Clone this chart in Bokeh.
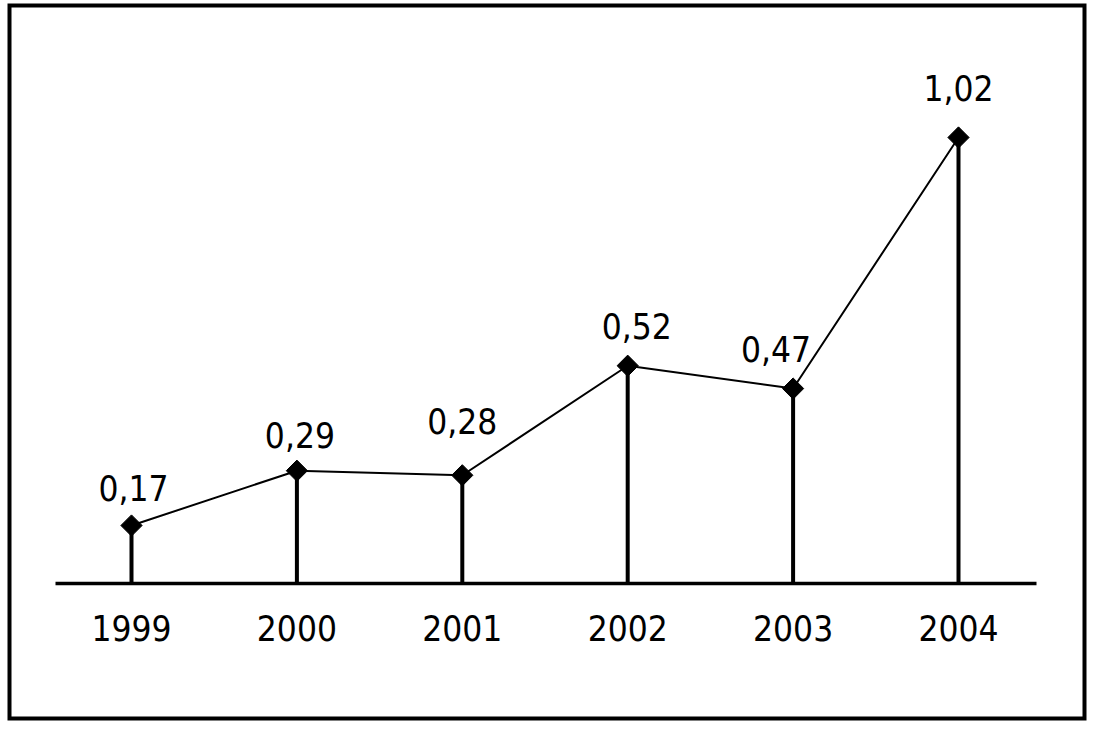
import math
from bokeh.plotting import figure
from bokeh.models import ColumnDataSource, Range1d
from bokeh.core.properties import value
from bokeh.embed import file_html
from bokeh.resources import INLINE

# ---- data ----
years = ["1999", "2000", "2001", "2002", "2003", "2004"]
values = [0.17, 0.29, 0.28, 0.52, 0.47, 1.02]
value_labels = ["0,17", "0,29", "0,28", "0,52", "0,47", "1,02"]

# label placement offsets (screen px, negative = up)
label_dx = [2, 3, 0, 9, -17, 0]
label_dy = [-23, -22, -40, -26, -26, -35]
BASELINE_FIX = -14  # renderer draws alphabetic baseline this much lower

FONT = "'Liberation Sans Narrow', 'DejaVu Sans Condensed', 'Liberation Sans', sans-serif"
BASE = 0.043  # level of the drawn axis line

xs = list(range(len(years)))

p = figure(width=1090, height=722, output_backend="svg", toolbar_location=None,
           x_range=Range1d(-0.7376, 5.7618), y_range=Range1d(-0.2528, 1.3091),
           min_border_left=9, min_border_right=6,
           min_border_top=5, min_border_bottom=4)
p.axis.visible = False
p.grid.visible = False
p.outline_line_color = "black"
p.outline_line_width = 4
p.outline_line_join = "miter"
p.background_fill_color = "white"
p.border_fill_color = "white"

src = ColumnDataSource(dict(x=xs, y=values, base=[BASE] * len(xs), lab=value_labels,
                            dx=label_dx, dy=[d + BASELINE_FIX for d in label_dy], yr=years))

# baseline axis
p.line(x=[-0.4595, 5.4716], y=[BASE, BASE], line_color="black", line_width=3.5)
# stems
p.segment(x0="x", y0="base", x1="x", y1="y", source=src, line_color="black", line_width=4)
# connecting line
p.line(x="x", y="y", source=src, line_color="black", line_width=2)
# diamonds
p.scatter(x="x", y="y", source=src, marker="square", angle=math.pi / 4, size=15,
          fill_color="black", line_color="black")
# value labels
p.text(x="x", y="y", text="lab", source=src, x_offset="dx", y_offset="dy",
       text_align="center", text_baseline="alphabetic", text_font=value(FONT),
       text_font_size="35px", text_color="black")
# year labels
p.text(x="x", y="base", text="yr", source=src, y_offset=59 + BASELINE_FIX,
       text_align="center", text_baseline="alphabetic", text_font=value(FONT),
       text_font_size="35px", text_color="black")

open("out.html", "w").write(file_html(p, INLINE))
